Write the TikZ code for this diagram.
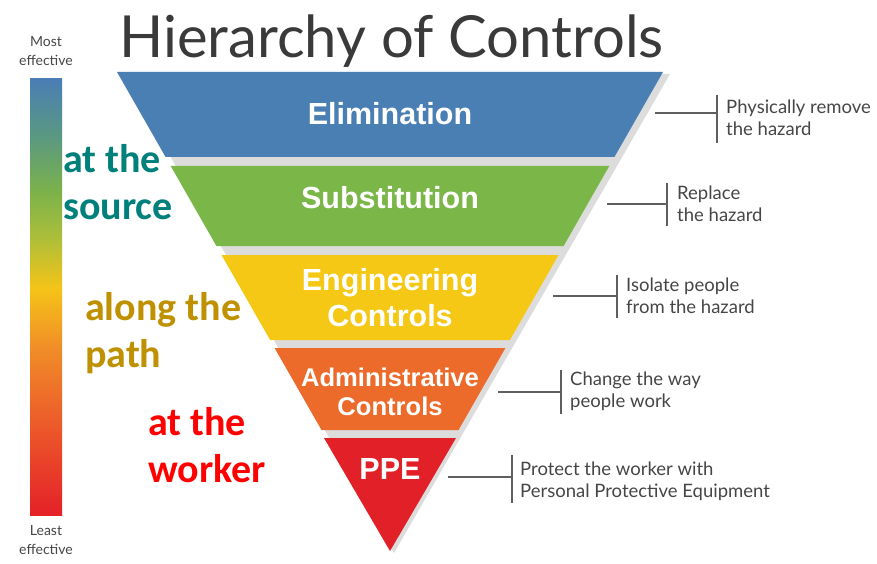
\documentclass[tikz,border=0pt]{standalone}
\usepackage{fontspec}
\setmainfont{Liberation Sans}
\newfontfamily\titlefont{Lato}
\newfontfamily\notefont{Lato}
\newfontfamily\calfont{Carlito}
\definecolor{elimblue}{RGB}{74,127,180}
\definecolor{subgreen}{RGB}{122,182,72}
\definecolor{engyellow}{RGB}{245,200,22}
\definecolor{admorange}{RGB}{236,106,42}
\definecolor{ppered}{RGB}{226,32,40}
\definecolor{titlegray}{RGB}{58,58,58}
\definecolor{notegray}{RGB}{70,70,70}
\definecolor{linegray}{RGB}{95,95,95}
\definecolor{shadowgray}{RGB}{220,220,220}
\definecolor{srcteal}{RGB}{0,128,122}
\definecolor{pathgold}{RGB}{191,144,0}
\definecolor{workred}{RGB}{255,0,0}
\definecolor{barblue}{RGB}{74,126,181}
\definecolor{barteal}{RGB}{90,152,130}
\definecolor{bargreen}{RGB}{124,178,74}
\definecolor{barlime}{RGB}{170,190,58}
\definecolor{baryellow}{RGB}{245,196,24}
\definecolor{barorange}{RGB}{240,140,40}
\definecolor{barred2}{RGB}{236,88,42}
\definecolor{barred}{RGB}{228,33,40}
\pgfdeclareverticalshading{effbar}{100bp}{%
  color(0bp)=(barred); color(25bp)=(barred); color(35bp)=(barred2); color(44bp)=(barorange);
  color(51bp)=(baryellow); color(57bp)=(barlime); color(62bp)=(bargreen);
  color(68.5bp)=(barteal); color(75bp)=(barblue); color(100bp)=(barblue)}
\begin{document}
\begin{tikzpicture}[x=1pt,y=-1pt,
  bandlabel/.style={text=white, font=\bfseries\fontsize{30.5}{36}\selectfont, align=center, inner sep=0pt},
  notetext/.style={anchor=west, align=left, text=notegray, font=\notefont\fontsize{18.5}{22}\selectfont, inner sep=0pt},
  leader/.style={draw=linegray, line width=1.1pt},
  sidetext/.style={font=\calfont\bfseries\fontsize{40}{47}\selectfont, align=left, anchor=west, inner sep=0pt},
  scaletext/.style={text=notegray, font=\notefont\fontsize{14}{19}\selectfont, align=center, inner sep=0pt}
]
\useasboundingbox (0,0) rectangle (877,564);
\fill[white] (0,0) rectangle (877,564);

% title
\node[anchor=base west, text=titlegray, font=\titlefont\fontsize{58}{64}\selectfont, inner sep=0pt] (title) at (119,58) {Hierarchy of Controls};

% effectiveness bar
\shade[shading=effbar] (30,79) rectangle (62,515);
\node[scaletext] (most) at (46,51) {Most\\effective};
\node[scaletext] (least) at (46,540) {Least\\effective};

% funnel shadow
\fill[shadowgray] (124,74) -- (670,74) -- (394,553) -- cycle;

% bands
\fill[elimblue] (117,72) -- (663,72) -- (614.4,157) -- (165.6,157) -- cycle;
\fill[subgreen] (170.7,166) -- (609.3,166) -- (563.6,246) -- (216.4,246) -- cycle;
\fill[engyellow] (221.5,255) -- (558.5,255) -- (509.9,340) -- (270.1,340) -- cycle;
\fill[admorange] (274.6,348) -- (505.4,348) -- (458.5,430) -- (321.5,430) -- cycle;
\fill[ppered] (324,438) -- (456,438) -- (390,551) -- cycle;

% band labels
\node[bandlabel] (elim) at (390,114) {Elimination};
\node[bandlabel] (subs) at (390,198) {Substitution};
\node[bandlabel] (eng) at (390,298) {Engineering\\Controls};
\node[bandlabel, font=\bfseries\fontsize{25.6}{29}\selectfont] (adm) at (390,392) {Administrative\\Controls};
\node[bandlabel] (ppe) at (390,469) {PPE};

% annotations
\coordinate (e1) at (655,113); \coordinate (e1b) at (717,113);
\draw[leader] (e1) -- (e1b);
\draw[leader] (717,95) -- (717,143);
\node[notetext] (n1) at (726,118) {Physically remove\\the hazard};

\coordinate (e2) at (607,204); \coordinate (e2b) at (667,204);
\draw[leader] (e2) -- (e2b);
\draw[leader] (667,183) -- (667,226);
\node[notetext] (n2) at (677,204) {Replace\\the hazard};

\coordinate (e3) at (553,296); \coordinate (e3b) at (617,296);
\draw[leader] (e3) -- (e3b);
\draw[leader] (617,275) -- (617,318);
\node[notetext] (n3) at (626,296) {Isolate people\\from the hazard};

\coordinate (e4) at (498,392); \coordinate (e4b) at (561,392);
\draw[leader] (e4) -- (e4b);
\draw[leader] (561,370) -- (561,414);
\node[notetext] (n4) at (570,391) {Change the way\\people work};

\coordinate (e5) at (448,477); \coordinate (e5b) at (512,477);
\draw[leader] (e5) -- (e5b);
\draw[leader] (512,455) -- (512,503);
\node[notetext] (n5) at (520,481) {Protect the worker with\\Personal Protective Equipment};

% side texts
\node[sidetext, text=srcteal] (src) at (63,182) {at the\\source};
\node[sidetext, text=pathgold] (pth) at (85,333) {along the\\path};
\node[sidetext, text=workred] (wrk) at (148,445) {at the\\worker};
\end{tikzpicture}
\end{document}
